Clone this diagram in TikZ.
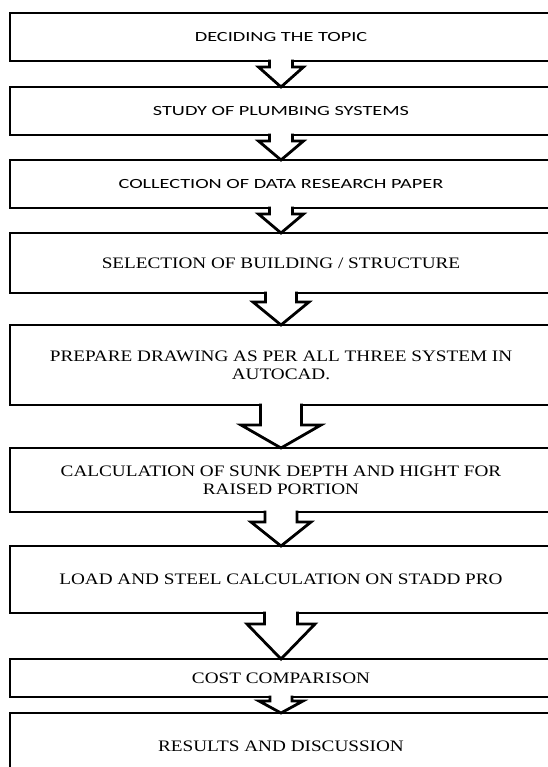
\documentclass[tikz,border=0pt]{standalone}
\usepackage{fontspec}
\usetikzlibrary{calc}
\newfontfamily\stepsans[FakeStretch=1.45]{Carlito}
\newfontfamily\stepserif[FakeStretch=1.2]{Liberation Serif}
\tikzset{
  stepbox/.style={draw, line width=2.8bp, minimum width=542bp, outer sep=0pt, inner sep=0pt, align=center},
  sansbox/.style={stepbox, font=\stepsans\fontsize{14bp}{17bp}\selectfont},
  serifbox/.style={stepbox, font=\stepserif\fontsize{16bp}{18bp}\selectfont},
  flowline/.style={line width=2.8bp, line join=miter},
}
\newcommand{\flowarrow}[5]{%
  \fill[white] ($(#1.south)+(-#3+1.3,-1.5)$) rectangle ($(#1.south)+(#3-1.3,#5)$);
  \draw[flowline, fill=white] ($(#1.south)+(-#3,-1.4)$) -- ++(0,#5+1.4) -- ++(#3-#4,0) -- (#2.north)
    -- ($(#1.south)+(#4,#5)$) -- ++(#3-#4,0) -- ++(0,-#5-1.4);
}

\begin{document}
\begin{tikzpicture}[x=1bp,y=-1bp]
  \useasboundingbox (0,0) rectangle (548,767);
  \node[sansbox, minimum height=48bp] (topic) at (281,37) {DECIDING THE TOPIC};
  \node[sansbox, minimum height=48bp] (study) at (281,111) {STUDY OF PLUMBING SYSTEMS};
  \node[sansbox, minimum height=48bp] (collect) at (281,184) {COLLECTION OF DATA RESEARCH PAPER};
  \node[serifbox, minimum height=60bp] (select) at (281,263) {SELECTION OF BUILDING / STRUCTURE};
  \node[serifbox, minimum height=80bp] (autocad) at (281,365) {PREPARE DRAWING AS PER ALL THREE SYSTEM IN\\AUTOCAD.};
  \node[serifbox, minimum height=64bp] (sunk) at (281,480) {CALCULATION OF SUNK DEPTH AND HIGHT FOR\\RAISED PORTION};
  \node[serifbox, minimum height=67bp] (stadd) at (281,579.5) {LOAD AND STEEL CALCULATION ON STADD PRO};
  \node[serifbox, minimum height=38bp] (cost) at (281,678) {COST COMPARISON};
  \node[serifbox, minimum height=67bp] (result) at (281,746.5) {RESULTS AND DISCUSSION};
  \foreach \a/\b/\s/\h/\l in {topic/study/11.5/22.5/6, study/collect/11.5/22.5/6,
      collect/select/11.5/22.5/6, select/autocad/15.5/28/9, autocad/sunk/20.5/40/20,
      sunk/stadd/16/30/10, stadd/cost/16.5/34/11, cost/result/11/22/4}
    \flowarrow{\a}{\b}{\s}{\h}{\l};
\end{tikzpicture}
\end{document}
